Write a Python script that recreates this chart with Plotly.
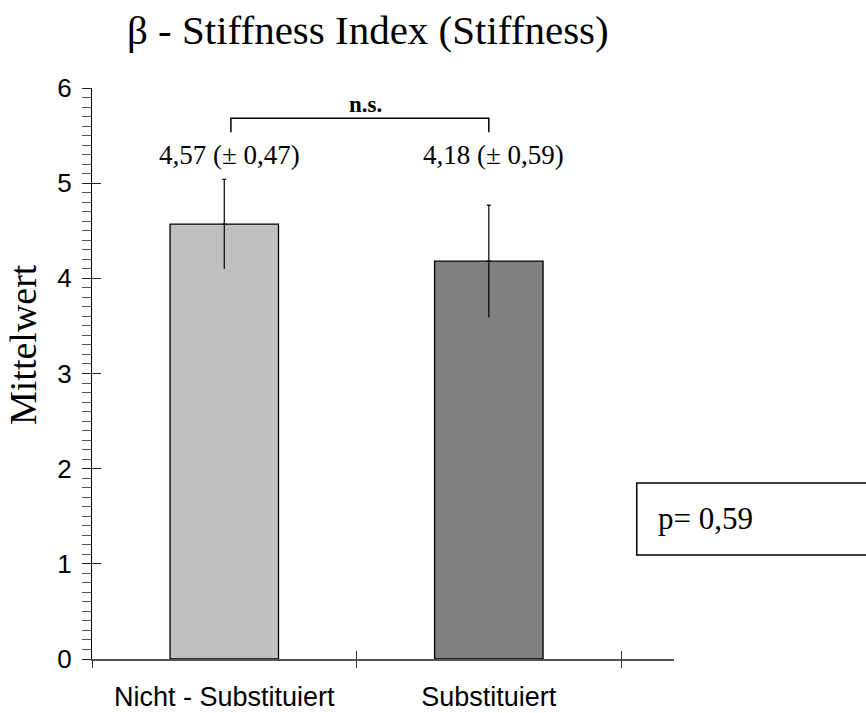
import plotly.graph_objects as go

# Data
categories = ["Nicht - Substituiert", "Substituiert"]
means = [4.57, 4.18]
sds = [0.47, 0.59]
bar_colors = ["#c0c0c0", "#808080"]
value_labels = ["4,57 (± 0,47)", "4,18 (± 0,59)"]
p_text = "p= 0,59"
sig_text = "n.s."
title_text = "β - Stiffness Index (Stiffness)"
y_title = "Mittelwert"

SERIF = "Liberation Serif, Times New Roman, serif"
SANS = "Liberation Sans, Arial, Helvetica, sans-serif"

x_pos = list(range(len(categories)))
x_range = [-0.5, 1.7]
boundaries = [i - 0.5 for i in range(len(categories) + 1)]

fig = go.Figure()

# Bars
fig.add_trace(go.Bar(
    x=x_pos, y=means, width=0.41,
    marker=dict(color=bar_colors, line=dict(color="black", width=1.3)),
    showlegend=False, hoverinfo="skip",
))

# Upper whisker with a small cap
fig.add_trace(go.Scatter(
    x=x_pos, y=means, mode="markers", marker=dict(opacity=0),
    error_y=dict(type="data", symmetric=False, array=sds, arrayminus=[0] * len(sds),
                 color="black", thickness=1.2, width=2),
    showlegend=False, hoverinfo="skip",
))
# Lower whisker without a cap
fig.add_trace(go.Scatter(
    x=x_pos, y=means, mode="markers", marker=dict(opacity=0),
    error_y=dict(type="data", symmetric=False, array=[0] * len(sds), arrayminus=sds,
                 color="black", thickness=1.2, width=0),
    showlegend=False, hoverinfo="skip",
))

# Helper traces so the overlay tick axes get drawn
fig.add_trace(go.Scatter(x=x_pos, y=means, xaxis="x2", yaxis="y2", mode="markers",
                         marker=dict(opacity=0), showlegend=False, hoverinfo="skip"))
fig.add_trace(go.Scatter(x=x_pos, y=means, xaxis="x3", yaxis="y", mode="markers",
                         marker=dict(opacity=0), showlegend=False, hoverinfo="skip"))

fig.update_layout(
    width=866, height=713,
    margin=dict(l=92, r=192, t=88, b=54),
    paper_bgcolor="white", plot_bgcolor="white",
    xaxis=dict(
        range=x_range, tickmode="array", tickvals=x_pos, ticktext=categories,
        ticks="", showgrid=False, zeroline=False, automargin=False,
        showline=True, linecolor="#555555", linewidth=1.5,
        tickfont=dict(family=SANS, size=27, color="black"),
        ticklabelstandoff=13,
    ),
    xaxis2=dict(
        overlaying="x", anchor="y2", range=x_range, tickmode="array", tickvals=boundaries,
        ticks="outside", ticklen=8, tickwidth=1, tickcolor="#333333", automargin=False,
        showticklabels=False, showgrid=False, zeroline=False, showline=False,
    ),
    xaxis3=dict(
        overlaying="x", anchor="y", range=x_range, tickmode="array", tickvals=boundaries,
        ticks="inside", ticklen=8, tickwidth=1, tickcolor="#333333", automargin=False,
        showticklabels=False, showgrid=False, zeroline=False, showline=False,
    ),
    yaxis=dict(
        range=[0, 6], tickmode="linear", tick0=0, dtick=1,
        ticks="outside", ticklen=9, tickwidth=1, tickcolor="#222222",
        minor=dict(ticks="outside", ticklen=9, tickwidth=1, tickcolor="#555555", dtick=0.1, showgrid=False),
        showgrid=False, zeroline=False, showline=True, linecolor="black", linewidth=1,
        tickfont=dict(family=SANS, size=26, color="black"), automargin=False,
        ticklabelstandoff=5,
    ),
    yaxis2=dict(
        overlaying="y", anchor="x2", range=[0, 6], tickmode="linear", tick0=0, dtick=1,
        ticks="inside", ticklen=9, tickwidth=1, tickcolor="#222222", automargin=False,
        showticklabels=False, showgrid=False, zeroline=False, showline=False,
    ),
)

# Title
fig.add_annotation(
    text=title_text, xref="paper", yref="paper", x=0.4737, y=1.0 + (88 - 30) / 571,
    showarrow=False, xanchor="center", yanchor="middle",
    font=dict(family=SERIF, size=41, color="black"),
)

# Y axis title
fig.add_annotation(
    text=y_title, xref="paper", yref="paper", x=(23 - 92) / 582, y=(659 - 345) / 571,
    showarrow=False, textangle=-90, xanchor="center", yanchor="middle",
    font=dict(family=SERIF, size=38, color="black"),
)

# Mean (± SD) labels
for xp, lbl in zip(x_pos, value_labels):
    fig.add_annotation(
        text=lbl, x=xp, y=5.30, xref="x", yref="y", showarrow=False,
        xanchor="center", yanchor="middle", xshift=5,
        font=dict(family=SERIF, size=27, color="black"),
    )

# Significance bracket
br_left, br_right, br_top, br_foot = 0.025, 1.0, 5.683, 5.536
fig.add_shape(type="path",
              path=f"M {br_left},{br_foot} L {br_left},{br_top} L {br_right},{br_top} L {br_right},{br_foot}",
              xref="x", yref="y", line=dict(color="black", width=1.5))
fig.add_annotation(
    text=f"<b>{sig_text}</b>", x=(br_left + br_right) / 2 + 0.02, y=5.83, xref="x", yref="y",
    showarrow=False, xanchor="center", yanchor="middle",
    font=dict(family=SERIF, size=23, color="black"),
)

# p-value box
fig.add_shape(type="rect", xref="paper", yref="paper",
              x0=0.936, x1=1.45, y0=(659 - 555) / 571, y1=(659 - 483) / 571,
              line=dict(color="black", width=1.5), fillcolor="white", layer="above")
fig.add_annotation(
    text=p_text, xref="paper", yref="paper", x=(656 - 92) / 582, y=(659 - 518) / 571,
    showarrow=False, xanchor="left", yanchor="middle",
    font=dict(family=SERIF, size=31, color="black"),
)

fig.write_html("out.html")
